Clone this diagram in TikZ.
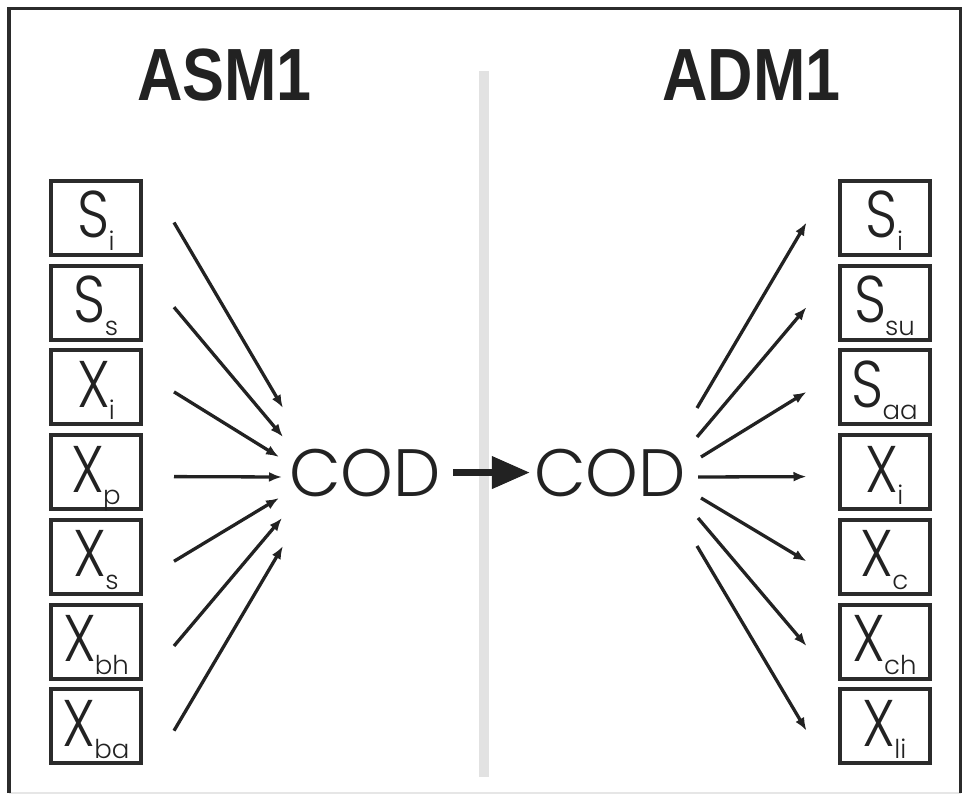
\documentclass[tikz,border=0pt]{standalone}
\usepackage{fontspec}
\setmainfont{Liberation Sans}
\newfontfamily\geofont{Poppins Light}
\usetikzlibrary{arrows.meta}

\definecolor{ink}{HTML}{222222}
\definecolor{framegray}{HTML}{2B2B2B}
\definecolor{dividergray}{HTML}{E2E2E2}
\definecolor{edgegray}{HTML}{E6E6E6}

% state variable label: main letter plus lowered subscript
\newcommand{\species}[2]{{\fontsize{66}{66}\selectfont\scalebox{0.85}[1]{#1}}\kern-1pt\raisebox{-12.5pt}{\fontsize{26}{26}\selectfont #2}}

\tikzset{
  stbox/.style={draw=framegray, line width=4pt, minimum width=90pt,
    minimum height=74pt, inner sep=0pt, text height=50pt, text depth=10pt,
    font=\geofont, text=ink},
  modeltitle/.style={anchor=base, inner sep=0pt, text=ink,
    font=\fontsize{74}{74}\selectfont\bfseries},
  codtext/.style={anchor=base, inner sep=0pt, text=ink,
    font=\geofont\fontsize{67}{67}\selectfont},
  flow/.style={draw=ink, line width=3.3pt, -{Latex[length=13pt,width=10pt]}},
  bigflow/.style={draw=ink, line width=7pt, -{Triangle[length=38pt,width=31pt]}},
}

\begin{document}
\begin{tikzpicture}[x=1pt, y=-1pt]
  \useasboundingbox (0,0) rectangle (964,794);

  % outer frame
  \draw[edgegray, line width=2pt] (9,792.5) -- (960.5,792.5);
  \draw[framegray, line width=3.5pt] (9,793) -- (9,8.5) -- (960.5,8.5) -- (960.5,793);

  % divider between the two models
  \fill[dividergray] (479,71) rectangle (489,777);

  % titles
  \node[modeltitle] (asm) at (224.5,101) {\scalebox{0.85}[1]{ASM1}};
  \node[modeltitle] (adm) at (751.5,101) {\scalebox{0.85}[1]{ADM1}};

  % ASM1 state variables
  \node[stbox] (lSi)  at (96,218)   {\species{S}{i}};
  \node[stbox] (lSs)  at (96,302.7) {\species{S}{s}};
  \node[stbox] (lXi)  at (96,387.4) {\species{X}{i}};
  \node[stbox] (lXp)  at (96,472.1) {\species{X}{p}};
  \node[stbox] (lXs)  at (96,556.8) {\species{X}{s}};
  \node[stbox] (lXbh) at (96,641.5) {\species{X}{bh}};
  \node[stbox] (lXba) at (96,726.2) {\species{X}{ba}};

  % ADM1 state variables
  \node[stbox] (rSi)  at (884.5,218)   {\species{S}{i}};
  \node[stbox] (rSsu) at (884.5,302.7) {\species{S}{su}};
  \node[stbox] (rSaa) at (884.5,387.4) {\species{S}{aa}};
  \node[stbox] (rXi)  at (884.5,472.1) {\species{X}{i}};
  \node[stbox] (rXc)  at (884.5,556.8) {\species{X}{c}};
  \node[stbox] (rXch) at (884.5,641.5) {\species{X}{ch}};
  \node[stbox] (rXli) at (884.5,726.2) {\species{X}{li}};

  % COD on both sides
  \node[codtext] (codL) at (365,496) {COD};
  \node[codtext] (codR) at (610,496) {COD};

  % converging inputs (ASM1) and diverging outputs (ADM1)
  \coordinate (inA) at (283,408);
  \coordinate (inB) at (283,437);
  \coordinate (inC) at (279,457);
  \coordinate (inD) at (282,477);
  \coordinate (inE) at (279,498);
  \coordinate (inF) at (282,518);
  \coordinate (inG) at (283,546);
  \coordinate (outA) at (697,408);
  \coordinate (outB) at (697,437);
  \coordinate (outC) at (701,457);
  \coordinate (outD) at (698,477);
  \coordinate (outE) at (701,498);
  \coordinate (outF) at (698,518);
  \coordinate (outG) at (697,546);

  \foreach \b/\e in {lSi/inA, lSs/inB, lXi/inC, lXp/inD, lXs/inE, lXbh/inF, lXba/inG}
    \draw[flow] ([xshift=31pt,yshift=-4.5pt]\b.east) -- (\e);
  \foreach \s/\b in {outA/rSi, outB/rSsu, outC/rSaa, outD/rXi, outE/rXc, outF/rXch, outG/rXli}
    \draw[flow] (\s) -- ([xshift=-31pt,yshift=-4.5pt]\b.west);

  % conversion arrow
  \draw[bigflow, shorten <=12pt, shorten >=4pt] (codL) -- (codR);
\end{tikzpicture}
\end{document}
